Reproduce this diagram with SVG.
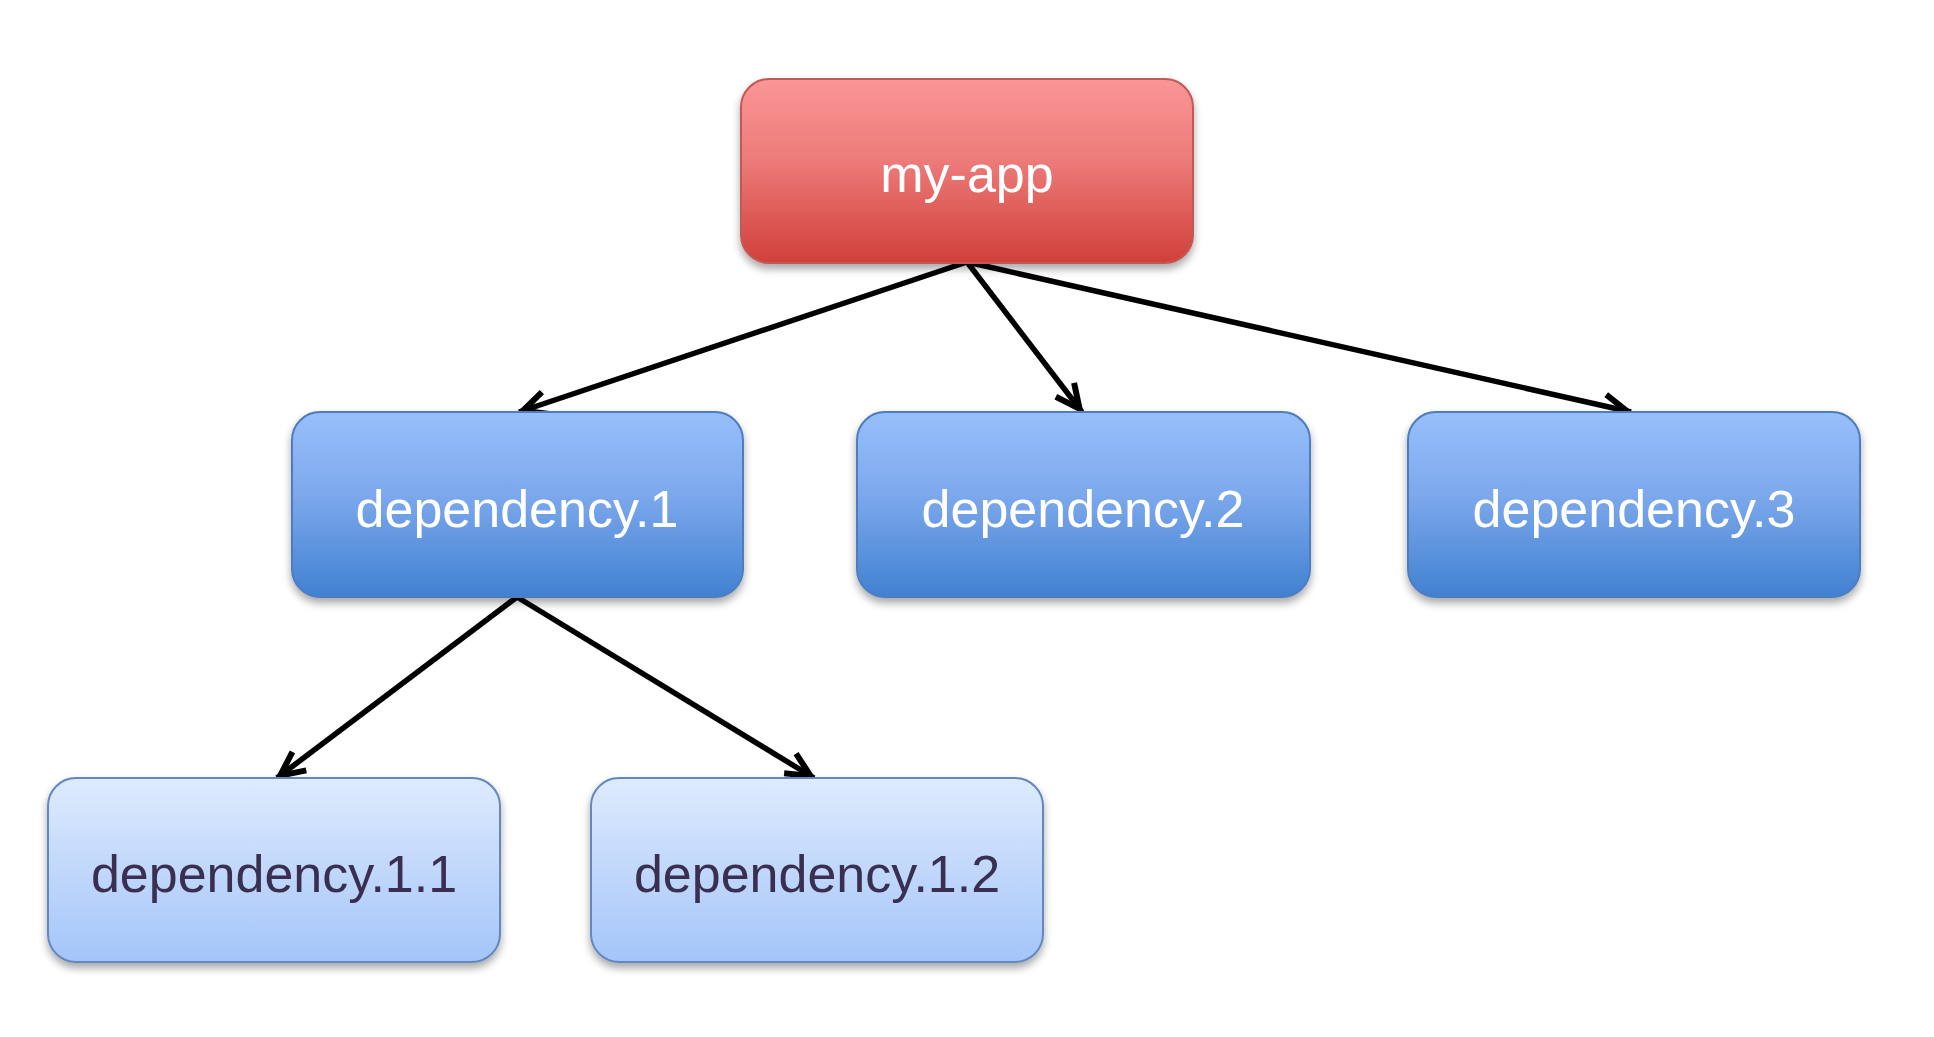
<svg xmlns="http://www.w3.org/2000/svg" width="1934" height="1037" viewBox="0 0 1934 1037">
  <defs>
    <linearGradient id="gRed" x1="0" y1="0" x2="0" y2="1">
      <stop offset="0" stop-color="#FB9696"/>
      <stop offset="0.45" stop-color="#EC7A78"/>
      <stop offset="1" stop-color="#D1403A"/>
    </linearGradient>
    <linearGradient id="gBlue" x1="0" y1="0" x2="0" y2="1">
      <stop offset="0" stop-color="#97BFFA"/>
      <stop offset="0.45" stop-color="#7CA8EC"/>
      <stop offset="1" stop-color="#4181D1"/>
    </linearGradient>
    <linearGradient id="gLight" x1="0" y1="0" x2="0" y2="1">
      <stop offset="0" stop-color="#DEEBFD"/>
      <stop offset="1" stop-color="#A4C5F9"/>
    </linearGradient>
    <filter id="shadow" x="-10%" y="-10%" width="120%" height="130%">
      <feGaussianBlur in="SourceAlpha" stdDeviation="4"/>
      <feOffset dx="0" dy="5" result="b"/>
      <feComponentTransfer><feFuncA type="linear" slope="0.35"/></feComponentTransfer>
      <feMerge><feMergeNode/><feMergeNode in="SourceGraphic"/></feMerge>
    </filter>
    <marker id="arrow" markerUnits="userSpaceOnUse" viewBox="-34 -20 40 40" refX="0" refY="0" markerWidth="40" markerHeight="40" orient="auto">
      <path d="M-28,-11.5 L-4,0 L-28,11.5" fill="none" stroke="#000" stroke-width="6" stroke-linejoin="miter"/>
    </marker>
  </defs>
  <style>
    .box { stroke-width: 2; filter: url(#shadow); }
    .red { fill: url(#gRed); stroke: #C05A58; }
    .blue { fill: url(#gBlue); stroke: #4E7DBE; }
    .light { fill: url(#gLight); stroke: #6488C0; }
    .label { font-family: "Liberation Sans", Arial, Helvetica, sans-serif; font-size: 52px; text-anchor: middle; }
    .white { fill: #FFFFFF; }
    .dark { fill: #3A2F50; }
    .edge { stroke: #000; stroke-width: 5.5; fill: none; marker-end: url(#arrow); }
  </style>
  <rect width="1934" height="1037" fill="#FFFFFF"/>

  <g id="connectors">
    <line class="edge" x1="967" y1="262" x2="519" y2="412"/>
    <line class="edge" x1="967" y1="262" x2="1082" y2="412"/>
    <line class="edge" x1="967" y1="262" x2="1631" y2="412"/>
    <line class="edge" x1="517" y1="597" x2="277" y2="778"/>
    <line class="edge" x1="517" y1="597" x2="814" y2="778"/>
  </g>

  <g id="my-app">
    <rect class="box red" x="741" y="79" width="452" height="184" rx="28" ry="28"/>
    <text class="label white" x="967" y="192">my-app</text>
  </g>
  <g id="dependency-1">
    <rect class="box blue" x="292" y="412" width="451" height="185" rx="28" ry="28"/>
    <text class="label white" x="517" y="527">dependency.1</text>
  </g>
  <g id="dependency-2">
    <rect class="box blue" x="857" y="412" width="453" height="185" rx="28" ry="28"/>
    <text class="label white" x="1083" y="527">dependency.2</text>
  </g>
  <g id="dependency-3">
    <rect class="box blue" x="1408" y="412" width="452" height="185" rx="28" ry="28"/>
    <text class="label white" x="1634" y="527">dependency.3</text>
  </g>
  <g id="dependency-1-1">
    <rect class="box light" x="48" y="778" width="452" height="184" rx="28" ry="28"/>
    <text class="label dark" x="274" y="892">dependency.1.1</text>
  </g>
  <g id="dependency-1-2">
    <rect class="box light" x="591" y="778" width="452" height="184" rx="28" ry="28"/>
    <text class="label dark" x="817" y="892">dependency.1.2</text>
  </g>
</svg>
